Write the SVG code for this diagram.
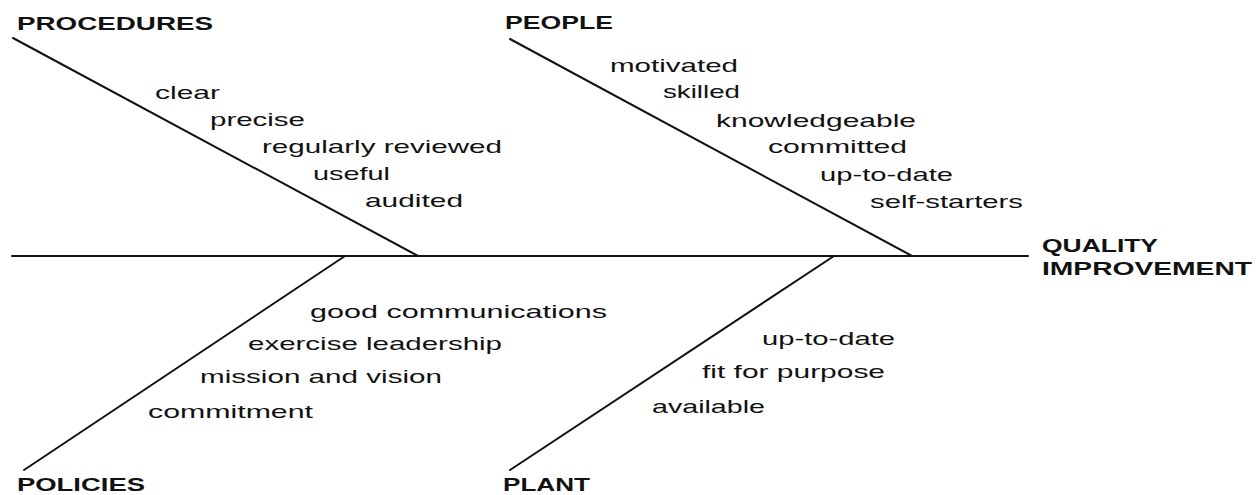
<svg xmlns="http://www.w3.org/2000/svg" width="1259" height="495" viewBox="0 0 1259 495">
<style>
  .bone { stroke: #111; stroke-width: 2; fill: none; stroke-linecap: round; }
  .head { font-family: "Liberation Sans", Arial, sans-serif; font-size: 18px; font-weight: bold; fill: #111; }
  .lbl { font-family: "Liberation Sans", Arial, sans-serif; font-size: 19px; fill: #111; }
</style>
<rect width="1259" height="495" fill="#fff"/>
<g id="connectors">
  <line class="bone" x1="12" y1="256" x2="1028" y2="256"/>
  <line class="bone" x1="13" y1="38" x2="418" y2="256"/>
  <line class="bone" x1="510" y1="39" x2="912" y2="256"/>
  <line class="bone" x1="345" y1="256" x2="24" y2="470"/>
  <line class="bone" x1="834" y1="256" x2="510" y2="470"/>
</g>
<g id="procedures">
  <text class="head" x="17" y="30" textLength="196" lengthAdjust="spacingAndGlyphs">PROCEDURES</text>
  <text class="lbl" x="155" y="99" textLength="65" lengthAdjust="spacingAndGlyphs">clear</text>
  <text class="lbl" x="210" y="126" textLength="95" lengthAdjust="spacingAndGlyphs">precise</text>
  <text class="lbl" x="262" y="153" textLength="240" lengthAdjust="spacingAndGlyphs">regularly reviewed</text>
  <text class="lbl" x="313" y="180" textLength="77" lengthAdjust="spacingAndGlyphs">useful</text>
  <text class="lbl" x="365" y="207" textLength="98" lengthAdjust="spacingAndGlyphs">audited</text>
</g>
<g id="people">
  <text class="head" x="505" y="29" textLength="108" lengthAdjust="spacingAndGlyphs">PEOPLE</text>
  <text class="lbl" x="610" y="72" textLength="128" lengthAdjust="spacingAndGlyphs">motivated</text>
  <text class="lbl" x="663" y="98" textLength="77" lengthAdjust="spacingAndGlyphs">skilled</text>
  <text class="lbl" x="716" y="127" textLength="200" lengthAdjust="spacingAndGlyphs">knowledgeable</text>
  <text class="lbl" x="768" y="153" textLength="139" lengthAdjust="spacingAndGlyphs">committed</text>
  <text class="lbl" x="820" y="181" textLength="133" lengthAdjust="spacingAndGlyphs">up-to-date</text>
  <text class="lbl" x="870" y="208" textLength="153" lengthAdjust="spacingAndGlyphs">self-starters</text>
</g>
<g id="policies">
  <text class="head" x="17" y="491" textLength="128" lengthAdjust="spacingAndGlyphs">POLICIES</text>
  <text class="lbl" x="310" y="318" textLength="297" lengthAdjust="spacingAndGlyphs">good communications</text>
  <text class="lbl" x="248" y="350" textLength="254" lengthAdjust="spacingAndGlyphs">exercise leadership</text>
  <text class="lbl" x="200" y="383" textLength="242" lengthAdjust="spacingAndGlyphs">mission and vision</text>
  <text class="lbl" x="148" y="418" textLength="165" lengthAdjust="spacingAndGlyphs">commitment</text>
</g>
<g id="plant">
  <text class="head" x="503" y="491" textLength="87" lengthAdjust="spacingAndGlyphs">PLANT</text>
  <text class="lbl" x="762" y="345" textLength="133" lengthAdjust="spacingAndGlyphs">up-to-date</text>
  <text class="lbl" x="702" y="378" textLength="183" lengthAdjust="spacingAndGlyphs">fit for purpose</text>
  <text class="lbl" x="652" y="413" textLength="113" lengthAdjust="spacingAndGlyphs">available</text>
</g>
<g id="quality-improvement">
  <text class="head" x="1042" y="252" textLength="116" lengthAdjust="spacingAndGlyphs">QUALITY</text>
  <text class="head" x="1042" y="275" textLength="210" lengthAdjust="spacingAndGlyphs">IMPROVEMENT</text>
</g>
</svg>
